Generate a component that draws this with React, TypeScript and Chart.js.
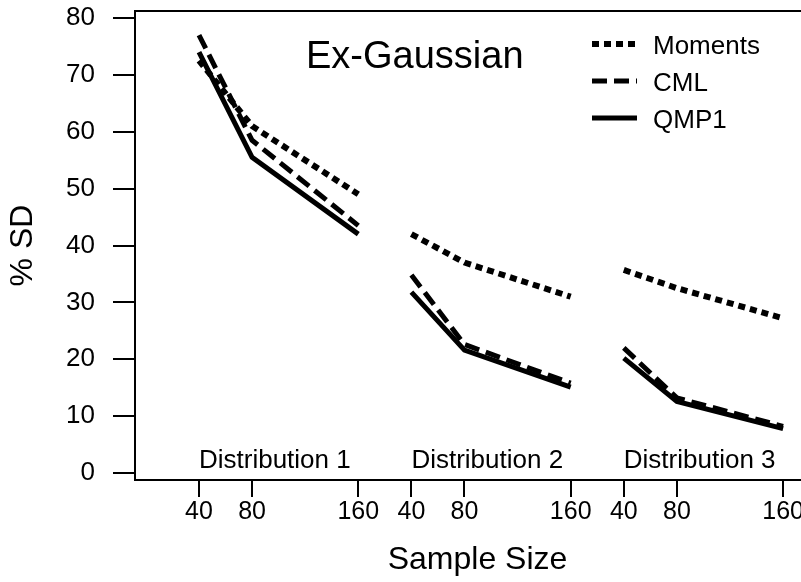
import React, { useEffect, useRef } from "react";
import { Chart, registerables } from "chart.js";

Chart.register(...registerables);

// ---- data ----
const xPositions = [40, 80, 160, 200, 240, 320, 360, 400, 480];
const xTickLabels = ["40", "80", "160", "40", "80", "160", "40", "80", "160"];
const groupLabels = ["Distribution 1", "Distribution 2", "Distribution 3"];
const groupStarts = [40, 200, 360];
const momentsValues = [72.5, 61, 49, 42, 37, 31, 35.7, 32.5, 27.2];
const cmlValues = [77, 58.5, 43.5, 34.8, 22.6, 15.8, 22, 13.2, 8.2];
const qmp1Values = [74, 55.5, 42, 31.8, 21.6, 15.1, 20.2, 12.6, 7.8];
const yTickValues = [0, 10, 20, 30, 40, 50, 60, 70, 80];
const seriesNames = ["Moments", "CML", "QMP1"];
const chartTitle = "Ex-Gaussian";
const xTitle = "Sample Size";
const yTitle = "% SD";

const FONT = "'Liberation Sans', Arial, Helvetica, sans-serif";

function buildPoints(values: number[]) {
  const pts: { x: number; y: number | null }[] = [];
  values.forEach((v, i) => {
    pts.push({ x: xPositions[i], y: v });
    if (i % 3 === 2 && i < values.length - 1) {
      pts.push({ x: (xPositions[i] + xPositions[i + 1]) / 2, y: null });
    }
  });
  return pts;
}

const decorPlugin = {
  id: "decor",
  afterDraw(chart: any) {
    const { ctx, chartArea, scales } = chart;
    const xs = scales.x;
    ctx.save();
    // top frame line
    ctx.strokeStyle = "#000";
    ctx.lineWidth = 2;
    ctx.beginPath();
    ctx.moveTo(chartArea.left - 1, chartArea.top);
    ctx.lineTo(chart.width, chartArea.top);
    ctx.stroke();

    ctx.fillStyle = "#000";
    // title inside plot
    ctx.font = `38px ${FONT}`;
    ctx.textAlign = "left";
    ctx.textBaseline = "alphabetic";
    ctx.fillText(chartTitle, 306, 68);

    // group labels
    ctx.font = `26px ${FONT}`;
    groupLabels.forEach((g, i) => {
      ctx.fillText(g, xs.getPixelForValue(groupStarts[i]), chartArea.bottom - 12);
    });

    // legend
    const lineYs = [44, 81, 118];
    const textBase = [54, 91, 128];
    chart.data.datasets.forEach((ds: any, i: number) => {
      ctx.save();
      ctx.strokeStyle = ds.borderColor;
      ctx.lineWidth = ds.borderWidth;
      ctx.lineCap = "butt";
      ctx.setLineDash(ds.borderDash || []);
      ctx.beginPath();
      ctx.moveTo(592, lineYs[i]);
      ctx.lineTo(637, lineYs[i]);
      ctx.stroke();
      ctx.restore();
      ctx.font = `26px ${FONT}`;
      ctx.fillText(ds.label, 653, textBase[i]);
    });
    ctx.restore();
  },
};

export default function App() {
  const ref = useRef<HTMLCanvasElement | null>(null);
  useEffect(() => {
    if (!ref.current) return;
    const common = {
      borderColor: "#000",
      borderWidth: 5,
      pointRadius: 0,
      borderCapStyle: "butt" as const,
      borderJoinStyle: "miter" as const,
      spanGaps: false,
      tension: 0,
    };
    const chart = new Chart(ref.current, {
      type: "line",
      data: {
        datasets: [
          { ...common, label: seriesNames[0], data: buildPoints(momentsValues), borderDash: [7, 5], borderWidth: 6 },
          { ...common, label: seriesNames[1], data: buildPoints(cmlValues), borderDash: [15, 7] },
          { ...common, label: seriesNames[2], data: buildPoints(qmp1Values), borderDash: [] },
        ],
      },
      options: {
        responsive: false,
        animation: false,
        devicePixelRatio: 1,
        layout: { padding: { top: 11, right: 10, left: 0, bottom: 0 } },
        plugins: { legend: { display: false }, tooltip: { enabled: false } },
        scales: {
          x: {
            type: "linear",
            min: -8.2,
            max: 507.8,
            afterBuildTicks: (s: any) => {
              s.ticks = xPositions.map((v) => ({ value: v }));
            },
            afterFit: (s: any) => {
              s.height = 102;
              s.paddingLeft = 0;
              s.paddingRight = 0;
            },
            ticks: {
              autoSkip: false,
              maxRotation: 0,
              color: "#000",
              padding: 0,
              font: { family: FONT, size: 25, lineHeight: 1.2 },
              callback: (v: any) => xTickLabels[xPositions.indexOf(Number(v))] ?? "",
            },
            grid: { drawOnChartArea: false, tickLength: 17, color: "#000", lineWidth: 2 },
            border: { color: "#000", width: 2 },
            title: {
              display: true,
              text: xTitle,
              color: "#000",
              font: { family: FONT, size: 32, lineHeight: 1.2 },
              padding: { top: 0, bottom: 3 },
            },
          },
          y: {
            type: "linear",
            min: -1.23,
            max: 81.23,
            afterBuildTicks: (s: any) => {
              s.ticks = yTickValues.map((v) => ({ value: v }));
            },
            afterFit: (s: any) => {
              s.width = 135;
              s.paddingTop = 0;
              s.paddingBottom = 0;
            },
            ticks: {
              color: "#000",
              padding: 18,
              font: { family: FONT, size: 26, lineHeight: 1.2 },
            },
            grid: { drawOnChartArea: false, tickLength: 22, color: "#000", lineWidth: 2 },
            border: { color: "#000", width: 2 },
            title: {
              display: true,
              text: yTitle,
              color: "#000",
              font: { family: FONT, size: 32, lineHeight: 1.2 },
              padding: { top: 4, bottom: 0 },
            },
          },
        },
      },
      plugins: [decorPlugin],
    } as any);
    return () => chart.destroy();
  }, []);

  return (
    <div
      style={{
        position: "absolute",
        left: 0,
        top: 0,
        width: 801,
        height: 582,
        overflow: "hidden",
        background: "#fff",
      }}
    >
      <canvas ref={ref} width={830} height={582} style={{ width: 830, height: 582, display: "block" }} />
    </div>
  );
}
